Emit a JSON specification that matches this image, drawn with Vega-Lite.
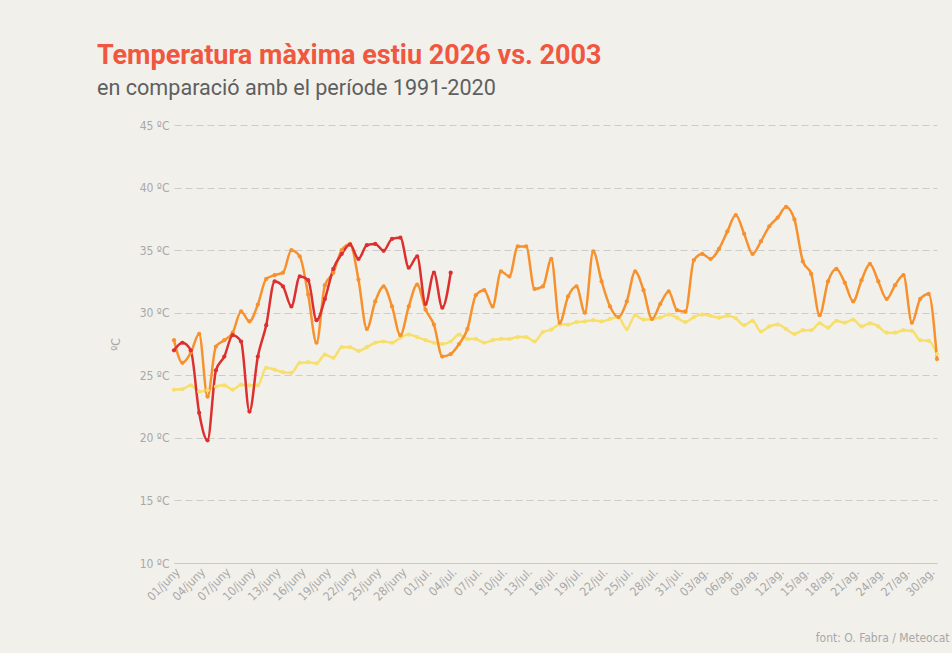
{
"$schema": "https://vega.github.io/schema/vega-lite/v6.json",
"width": 763, "height": 438,
"autosize": {"type": "none"},
"padding": {"left": 174, "top": 125, "right": 15, "bottom": 90},
"background": "#f2f0eb",
"config": {"view": {"stroke": null}, "font": "Roboto"},
"title": {"text": "Temperatura màxima estiu 2026 vs. 2003", "subtitle": "en comparació amb el període 1991-2020", "anchor": "start", "frame": "group", "dx": -77, "font": "Roboto", "fontSize": 27, "fontWeight": "bold", "color": "#f0573f", "subtitleFont": "Roboto", "subtitleFontSize": 21.6, "subtitleColor": "#5f5f5f", "offset": 18, "subtitlePadding": 8},
"data": {"values": [
{"dia":"01/juny","serie":"1991-2020","t":23.85},{"dia":"02/juny","serie":"1991-2020","t":23.9},{"dia":"03/juny","serie":"1991-2020","t":24.2},{"dia":"04/juny","serie":"1991-2020","t":23.7},{"dia":"05/juny","serie":"1991-2020","t":23.8},{"dia":"06/juny","serie":"1991-2020","t":24.1},{"dia":"07/juny","serie":"1991-2020","t":24.2},{"dia":"08/juny","serie":"1991-2020","t":23.85},{"dia":"09/juny","serie":"1991-2020","t":24.25},{"dia":"10/juny","serie":"1991-2020","t":24.2},
{"dia":"11/juny","serie":"1991-2020","t":24.2},{"dia":"12/juny","serie":"1991-2020","t":25.6},{"dia":"13/juny","serie":"1991-2020","t":25.45},{"dia":"14/juny","serie":"1991-2020","t":25.25},{"dia":"15/juny","serie":"1991-2020","t":25.2},{"dia":"16/juny","serie":"1991-2020","t":26.0},{"dia":"17/juny","serie":"1991-2020","t":26.05},{"dia":"18/juny","serie":"1991-2020","t":25.95},{"dia":"19/juny","serie":"1991-2020","t":26.65},{"dia":"20/juny","serie":"1991-2020","t":26.4},
{"dia":"21/juny","serie":"1991-2020","t":27.25},{"dia":"22/juny","serie":"1991-2020","t":27.25},{"dia":"23/juny","serie":"1991-2020","t":26.95},{"dia":"24/juny","serie":"1991-2020","t":27.25},{"dia":"25/juny","serie":"1991-2020","t":27.6},{"dia":"26/juny","serie":"1991-2020","t":27.7},{"dia":"27/juny","serie":"1991-2020","t":27.6},{"dia":"28/juny","serie":"1991-2020","t":28.0},{"dia":"29/juny","serie":"1991-2020","t":28.25},{"dia":"30/juny","serie":"1991-2020","t":28.05},
{"dia":"01/jul.","serie":"1991-2020","t":27.8},{"dia":"02/jul.","serie":"1991-2020","t":27.6},{"dia":"03/jul.","serie":"1991-2020","t":27.5},{"dia":"04/jul.","serie":"1991-2020","t":27.7},{"dia":"05/jul.","serie":"1991-2020","t":28.25},{"dia":"06/jul.","serie":"1991-2020","t":27.9},{"dia":"07/jul.","serie":"1991-2020","t":27.9},{"dia":"08/jul.","serie":"1991-2020","t":27.6},{"dia":"09/jul.","serie":"1991-2020","t":27.8},{"dia":"10/jul.","serie":"1991-2020","t":27.9},
{"dia":"11/jul.","serie":"1991-2020","t":27.9},{"dia":"12/jul.","serie":"1991-2020","t":28.05},{"dia":"13/jul.","serie":"1991-2020","t":28.05},{"dia":"14/jul.","serie":"1991-2020","t":27.7},{"dia":"15/jul.","serie":"1991-2020","t":28.45},{"dia":"16/jul.","serie":"1991-2020","t":28.65},{"dia":"17/jul.","serie":"1991-2020","t":29.05},{"dia":"18/jul.","serie":"1991-2020","t":29.05},{"dia":"19/jul.","serie":"1991-2020","t":29.25},{"dia":"20/jul.","serie":"1991-2020","t":29.3},
{"dia":"21/jul.","serie":"1991-2020","t":29.4},{"dia":"22/jul.","serie":"1991-2020","t":29.3},{"dia":"23/jul.","serie":"1991-2020","t":29.5},{"dia":"24/jul.","serie":"1991-2020","t":29.65},{"dia":"25/jul.","serie":"1991-2020","t":28.7},{"dia":"26/jul.","serie":"1991-2020","t":29.8},{"dia":"27/jul.","serie":"1991-2020","t":29.45},{"dia":"28/jul.","serie":"1991-2020","t":29.5},{"dia":"29/jul.","serie":"1991-2020","t":29.6},{"dia":"30/jul.","serie":"1991-2020","t":29.85},
{"dia":"31/jul.","serie":"1991-2020","t":29.6},{"dia":"01/ag.","serie":"1991-2020","t":29.25},{"dia":"02/ag.","serie":"1991-2020","t":29.65},{"dia":"03/ag.","serie":"1991-2020","t":29.85},{"dia":"04/ag.","serie":"1991-2020","t":29.75},{"dia":"05/ag.","serie":"1991-2020","t":29.6},{"dia":"06/ag.","serie":"1991-2020","t":29.75},{"dia":"07/ag.","serie":"1991-2020","t":29.55},{"dia":"08/ag.","serie":"1991-2020","t":29.0},{"dia":"09/ag.","serie":"1991-2020","t":29.35},
{"dia":"10/ag.","serie":"1991-2020","t":28.5},{"dia":"11/ag.","serie":"1991-2020","t":28.9},{"dia":"12/ag.","serie":"1991-2020","t":29.05},{"dia":"13/ag.","serie":"1991-2020","t":28.7},{"dia":"14/ag.","serie":"1991-2020","t":28.3},{"dia":"15/ag.","serie":"1991-2020","t":28.6},{"dia":"16/ag.","serie":"1991-2020","t":28.6},{"dia":"17/ag.","serie":"1991-2020","t":29.15},{"dia":"18/ag.","serie":"1991-2020","t":28.8},{"dia":"19/ag.","serie":"1991-2020","t":29.35},
{"dia":"20/ag.","serie":"1991-2020","t":29.2},{"dia":"21/ag.","serie":"1991-2020","t":29.45},{"dia":"22/ag.","serie":"1991-2020","t":28.9},{"dia":"23/ag.","serie":"1991-2020","t":29.15},{"dia":"24/ag.","serie":"1991-2020","t":28.9},{"dia":"25/ag.","serie":"1991-2020","t":28.4},{"dia":"26/ag.","serie":"1991-2020","t":28.4},{"dia":"27/ag.","serie":"1991-2020","t":28.6},{"dia":"28/ag.","serie":"1991-2020","t":28.55},{"dia":"29/ag.","serie":"1991-2020","t":27.8},
{"dia":"30/ag.","serie":"1991-2020","t":27.75},{"dia":"31/ag.","serie":"1991-2020","t":26.7},
{"dia":"01/juny","serie":"2003","t":27.8},{"dia":"02/juny","serie":"2003","t":26.0},{"dia":"03/juny","serie":"2003","t":26.8},{"dia":"04/juny","serie":"2003","t":28.3},{"dia":"05/juny","serie":"2003","t":23.3},{"dia":"06/juny","serie":"2003","t":27.3},{"dia":"07/juny","serie":"2003","t":27.8},{"dia":"08/juny","serie":"2003","t":28.4},{"dia":"09/juny","serie":"2003","t":30.1},{"dia":"10/juny","serie":"2003","t":29.3},
{"dia":"11/juny","serie":"2003","t":30.65},{"dia":"12/juny","serie":"2003","t":32.7},{"dia":"13/juny","serie":"2003","t":33.0},{"dia":"14/juny","serie":"2003","t":33.2},{"dia":"15/juny","serie":"2003","t":35.0},{"dia":"16/juny","serie":"2003","t":34.5},{"dia":"17/juny","serie":"2003","t":31.45},{"dia":"18/juny","serie":"2003","t":27.6},{"dia":"19/juny","serie":"2003","t":32.2},{"dia":"20/juny","serie":"2003","t":33.2},
{"dia":"21/juny","serie":"2003","t":35.0},{"dia":"22/juny","serie":"2003","t":35.5},{"dia":"23/juny","serie":"2003","t":32.65},{"dia":"24/juny","serie":"2003","t":28.7},{"dia":"25/juny","serie":"2003","t":30.9},{"dia":"26/juny","serie":"2003","t":32.1},{"dia":"27/juny","serie":"2003","t":30.5},{"dia":"28/juny","serie":"2003","t":28.2},{"dia":"29/juny","serie":"2003","t":30.5},{"dia":"30/juny","serie":"2003","t":32.25},
{"dia":"01/jul.","serie":"2003","t":30.25},{"dia":"02/jul.","serie":"2003","t":29.05},{"dia":"03/jul.","serie":"2003","t":26.5},{"dia":"04/jul.","serie":"2003","t":26.7},{"dia":"05/jul.","serie":"2003","t":27.5},{"dia":"06/jul.","serie":"2003","t":28.7},{"dia":"07/jul.","serie":"2003","t":31.4},{"dia":"08/jul.","serie":"2003","t":31.8},{"dia":"09/jul.","serie":"2003","t":30.5},{"dia":"10/jul.","serie":"2003","t":33.3},
{"dia":"11/jul.","serie":"2003","t":32.9},{"dia":"12/jul.","serie":"2003","t":35.3},{"dia":"13/jul.","serie":"2003","t":35.3},{"dia":"14/jul.","serie":"2003","t":31.9},{"dia":"15/jul.","serie":"2003","t":32.1},{"dia":"16/jul.","serie":"2003","t":34.3},{"dia":"17/jul.","serie":"2003","t":29.2},{"dia":"18/jul.","serie":"2003","t":31.3},{"dia":"19/jul.","serie":"2003","t":32.1},{"dia":"20/jul.","serie":"2003","t":30.0},
{"dia":"21/jul.","serie":"2003","t":34.9},{"dia":"22/jul.","serie":"2003","t":32.5},{"dia":"23/jul.","serie":"2003","t":30.5},{"dia":"24/jul.","serie":"2003","t":29.65},{"dia":"25/jul.","serie":"2003","t":30.9},{"dia":"26/jul.","serie":"2003","t":33.3},{"dia":"27/jul.","serie":"2003","t":31.8},{"dia":"28/jul.","serie":"2003","t":29.5},{"dia":"29/jul.","serie":"2003","t":30.7},{"dia":"30/jul.","serie":"2003","t":31.7},
{"dia":"31/jul.","serie":"2003","t":30.2},{"dia":"01/ag.","serie":"2003","t":30.1},{"dia":"02/ag.","serie":"2003","t":34.2},{"dia":"03/ag.","serie":"2003","t":34.7},{"dia":"04/ag.","serie":"2003","t":34.3},{"dia":"05/ag.","serie":"2003","t":35.1},{"dia":"06/ag.","serie":"2003","t":36.5},{"dia":"07/ag.","serie":"2003","t":37.8},{"dia":"08/ag.","serie":"2003","t":36.3},{"dia":"09/ag.","serie":"2003","t":34.7},
{"dia":"10/ag.","serie":"2003","t":35.7},{"dia":"11/ag.","serie":"2003","t":36.9},{"dia":"12/ag.","serie":"2003","t":37.6},{"dia":"13/ag.","serie":"2003","t":38.45},{"dia":"14/ag.","serie":"2003","t":37.45},{"dia":"15/ag.","serie":"2003","t":34.1},{"dia":"16/ag.","serie":"2003","t":33.1},{"dia":"17/ag.","serie":"2003","t":29.8},{"dia":"18/ag.","serie":"2003","t":32.5},{"dia":"19/ag.","serie":"2003","t":33.5},
{"dia":"20/ag.","serie":"2003","t":32.4},{"dia":"21/ag.","serie":"2003","t":30.9},{"dia":"22/ag.","serie":"2003","t":32.6},{"dia":"23/ag.","serie":"2003","t":33.9},{"dia":"24/ag.","serie":"2003","t":32.5},{"dia":"25/ag.","serie":"2003","t":31.1},{"dia":"26/ag.","serie":"2003","t":32.2},{"dia":"27/ag.","serie":"2003","t":33.0},{"dia":"28/ag.","serie":"2003","t":29.2},{"dia":"29/ag.","serie":"2003","t":31.1},
{"dia":"30/ag.","serie":"2003","t":31.5},{"dia":"31/ag.","serie":"2003","t":26.3},
{"dia":"01/juny","serie":"2026","t":27.0},{"dia":"02/juny","serie":"2026","t":27.6},{"dia":"03/juny","serie":"2026","t":27.0},{"dia":"04/juny","serie":"2026","t":22.0},{"dia":"05/juny","serie":"2026","t":19.8},{"dia":"06/juny","serie":"2026","t":25.4},{"dia":"07/juny","serie":"2026","t":26.5},{"dia":"08/juny","serie":"2026","t":28.2},{"dia":"09/juny","serie":"2026","t":27.7},{"dia":"10/juny","serie":"2026","t":22.1},
{"dia":"11/juny","serie":"2026","t":26.5},{"dia":"12/juny","serie":"2026","t":29.0},{"dia":"13/juny","serie":"2026","t":32.5},{"dia":"14/juny","serie":"2026","t":32.1},{"dia":"15/juny","serie":"2026","t":30.5},{"dia":"16/juny","serie":"2026","t":32.9},{"dia":"17/juny","serie":"2026","t":32.6},{"dia":"18/juny","serie":"2026","t":29.4},{"dia":"19/juny","serie":"2026","t":31.1},{"dia":"20/juny","serie":"2026","t":33.5},
{"dia":"21/juny","serie":"2026","t":34.7},{"dia":"22/juny","serie":"2026","t":35.45},{"dia":"23/juny","serie":"2026","t":34.3},{"dia":"24/juny","serie":"2026","t":35.4},{"dia":"25/juny","serie":"2026","t":35.5},{"dia":"26/juny","serie":"2026","t":34.95},{"dia":"27/juny","serie":"2026","t":35.9},{"dia":"28/juny","serie":"2026","t":36.0},{"dia":"29/juny","serie":"2026","t":33.6},{"dia":"30/juny","serie":"2026","t":34.5},
{"dia":"01/jul.","serie":"2026","t":30.7},{"dia":"02/jul.","serie":"2026","t":33.2},{"dia":"03/jul.","serie":"2026","t":30.4},{"dia":"04/jul.","serie":"2026","t":33.2}
]},
"mark": {"type": "line", "interpolate": "monotone", "strokeWidth": 2.5, "point": {"filled": true, "size": 18}},
"encoding": {
"x": {"field": "dia", "type": "ordinal", "sort": null, "scale": {"type": "point", "padding": 0},
 "axis": {"values": ["01/juny","04/juny","07/juny","10/juny","13/juny","16/juny","19/juny","22/juny","25/juny","28/juny","01/jul.","04/jul.","07/jul.","10/jul.","13/jul.","16/jul.","19/jul.","22/jul.","25/jul.","28/jul.","31/jul.","03/ag.","06/ag.","09/ag.","12/ag.","15/ag.","18/ag.","21/ag.","24/ag.","27/ag.","30/ag."],
 "labelAngle": -45, "labelColor": "#a8a8a8", "labelFontSize": 12, "labelFont": "DejaVu Sans Condensed, Roboto", "ticks": false, "grid": false, "domainColor": "#c8c8c8", "labelPadding": 3,
 "title": "font: O. Fabra / Meteocat", "titleAnchor": "end", "titleAlign": "right", "titleBaseline": "alphabetic", "titleX": 775, "titleY": 78, "titleFontSize": 12, "titleFontWeight": "normal", "titleColor": "#a8a8a8", "titleFont": "DejaVu Sans Condensed, Roboto"}},
"y": {"field": "t", "type": "quantitative", "scale": {"domain": [10, 45]},
 "axis": {"values": [10,15,20,25,30,35,40,45], "labelExpr": "datum.value + ' ºC'", "labelColor": "#a8a8a8", "labelFontSize": 12, "labelFont": "DejaVu Sans Condensed, Roboto", "domain": false, "ticks": false, "labelPadding": 5, "gridColor": "#cccccc", "gridDash": [7, 4], "gridWidth": 1,
 "title": "ºC", "titleColor": "#a8a8a8", "titleFontSize": 12, "titleFontWeight": "normal", "titleX": -52, "titleFont": "DejaVu Sans Condensed, Roboto"}},
"color": {"field": "serie", "type": "nominal", "scale": {"domain": ["1991-2020", "2003", "2026"], "range": ["#f7df6c", "#f7912d", "#dc2f2f"]}, "legend": null}
}
}
